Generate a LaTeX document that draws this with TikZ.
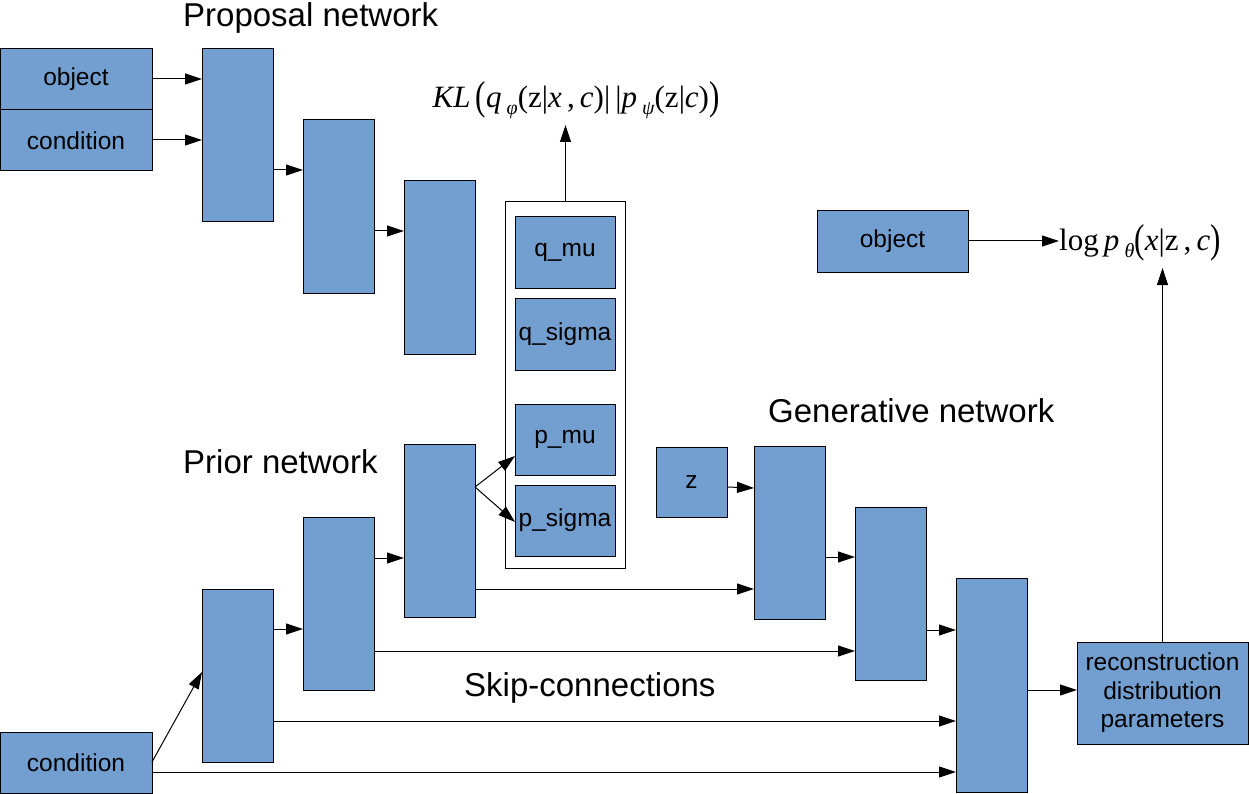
\documentclass[tikz,border=0pt]{standalone}
\usepackage{fontspec}
\usepackage{graphicx}
\setmainfont{Liberation Sans}
\newfontfamily\fserif{Liberation Serif}
\usetikzlibrary{arrows.meta}
\definecolor{boxblue}{HTML}{729FCF}
\tikzset{
  blk/.style={draw=black, line width=1pt, fill=boxblue, inner sep=0pt, outer sep=0pt, anchor=north west, font=\fontsize{24.5}{28.5}\selectfont, align=center},
  col/.style={blk, minimum width=71pt, minimum height=173pt},
  lbl/.style={font=\fontsize{33}{38}\selectfont, anchor=west, inner sep=0pt},
  arr/.style={line width=1pt, -{Triangle[length=17pt,width=11pt]}},
  frm/.style={font=\fserif\fontsize{31}{36}\selectfont, inner sep=0pt},
}
\newcommand{\bigp}[1]{\raisebox{-2pt}{\scalebox{1}[1.3]{#1}}}
\newcommand{\subg}[1]{\,\raisebox{-7pt}{\fontsize{20}{22}\selectfont\itshape #1}}
\begin{document}
\begin{tikzpicture}[x=1pt,y=-1pt]
\useasboundingbox (0,0) rectangle (1249,794);
% proposal network
\node[blk, minimum width=152pt, minimum height=61pt] (obj) at (0,49) {object};
\node[blk, minimum width=152pt, minimum height=61pt] (cond) at (0,110) {condition};
\node[col] (P1) at (202,49) {};
\node[col] (P2) at (303,120) {};
\node[col] (P3) at (404,181) {};
\node[lbl, anchor=north west] (lprop) at (183,2) {Proposal network};
% latent container
\node[draw=black, line width=1pt, fill=white, anchor=north west, minimum width=120pt, minimum height=367pt, inner sep=0pt] (cont) at (505,201) {};
\node[blk, minimum width=100pt, minimum height=71pt] (qmu) at (515,217) {q\_mu};
\node[blk, minimum width=100pt, minimum height=72pt] (qsig) at (515,298) {q\_sigma};
\node[blk, minimum width=100pt, minimum height=71pt] (pmu) at (515,404) {p\_mu};
\node[blk, minimum width=100pt, minimum height=71pt] (psig) at (515,485) {p\_sigma};
\node[frm] (kl) at (576,100) {\itshape KL\,\upshape\bigp{(}\itshape q\subg{φ}\upshape(z|\itshape x\upshape\,,\,\itshape c\upshape)|\,|\itshape p\subg{ψ}\upshape(z|\itshape c\upshape)\bigp{)}};
% object / likelihood
\node[blk, minimum width=151pt, minimum height=61pt] (obj2) at (817,211) {object};
\node[frm, anchor=west] (lik) at (1059,243) {log\,\itshape p\subg{θ}\upshape\bigp{(}\itshape x\upshape|z\,,\,\itshape c\upshape\bigp{)}};
% prior network
\node[lbl] (lprior) at (183,462) {Prior network};
\node[blk, minimum width=152pt, minimum height=61pt] (cond2) at (0,732) {condition};
\node[col] (R1) at (202,589) {};
\node[col] (R2) at (303,517) {};
\node[col] (R3) at (404,444) {};
% generative network
\node[lbl] (lgen) at (768,411) {Generative network};
\node[blk, minimum width=71pt, minimum height=70pt] (z) at (656,447) {z};
\node[col] (G1) at (754,446) {};
\node[col] (G2) at (855,507) {};
\node[col, minimum height=214pt] (G3) at (956,578) {};
\node[blk, minimum width=171pt, minimum height=102pt] (rec) at (1077,642) {reconstruction\\distribution\\parameters};
\node[lbl] (lskip) at (464,688) {Skip-connections};
% arrows proposal
\draw[arr] (obj.east |- 0,79) -- (P1.west |- 0,79);
\draw[arr] (cond.east |- 0,140) -- (P1.west |- 0,140);
\draw[arr] (P1.east |- 0,170) -- (P2.west |- 0,170);
\draw[arr] (P2.east |- 0,231) -- (P3.west |- 0,231);
\draw[arr] (cont.north) -- (cont.north |- 0,125);
\draw[arr] (obj2.east |- 0,241) -- (lik.west |- 0,241);
% arrows prior
\draw[arr] (cond2.east |- 0,762) -- (R1.west |- 0,672);
\draw[arr] (R1.east |- 0,629) -- (R2.west |- 0,629);
\draw[arr] (R2.east |- 0,558) -- (R3.west |- 0,558);
\coordinate (fork) at (475,487);
\draw[arr] (fork) -- (pmu.west |- 0,456);
\draw[arr] (fork) -- (psig.west |- 0,522);
% arrows generative
\draw[arr] (z.east |- 0,487) -- (G1.west |- 0,488);
\draw[arr] (R3.east |- 0,589) -- (G1.west |- 0,589);
\draw[arr] (G1.east |- 0,557) -- (G2.west |- 0,557);
\draw[arr] (R2.east |- 0,651) -- (G2.west |- 0,651);
\draw[arr] (G2.east |- 0,630) -- (G3.west |- 0,630);
\draw[arr] (R1.east |- 0,721) -- (G3.west |- 0,721);
\draw[arr] (cond2.east |- 0,772) -- (G3.west |- 0,772);
\draw[arr] (G3.east |- 0,690) -- (rec.west |- 0,690);
\draw[arr] (rec.north) -- (rec.north |- 0,268);
\end{tikzpicture}
\end{document}
